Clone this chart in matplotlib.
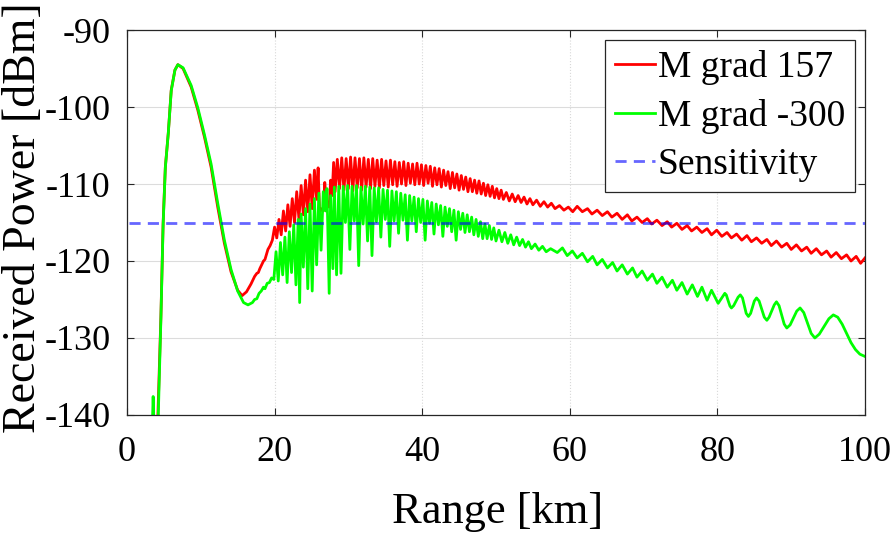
import matplotlib
matplotlib.use("Agg")
from matplotlib import pyplot as plt

# Range [km] / received power [dBm]
red_x = [4.0, 4.2, 4.6, 4.9, 5.2, 5.6, 6.0, 6.5, 6.9, 7.6, 8.7, 9.6, 10.5, 11.4, 12.3,
         13.2, 14.1, 15.0, 15.6, 16.2, 16.8, 17.3, 17.6, 17.8, 18.0, 18.2, 18.5, 18.7,
         19.1, 19.4, 19.7,
         20.0, 20.3, 20.6, 20.9, 21.2, 21.5, 21.8, 22.1, 22.4, 22.7, 23.0, 23.3, 23.6,
         23.9, 24.2, 24.5, 24.8, 25.1, 25.4, 25.7, 25.9, 26.1, 26.3, 26.6, 26.8, 27.0,
         27.2, 27.4, 27.6, 27.8, 28.0, 28.2, 28.5, 28.8, 29.1, 29.4, 29.7, 30.0, 30.3,
         30.6, 30.9, 31.2, 31.5, 31.8, 32.1, 32.4, 32.7, 33.0, 33.3, 33.6, 33.9, 34.2,
         34.5, 34.8, 35.1, 35.4, 35.7, 36.0, 36.3, 36.6, 36.9, 37.2, 37.5, 37.8, 38.1,
         38.4, 38.7, 39.0, 39.3, 39.6, 39.9, 40.2, 40.5, 40.8, 41.1, 41.4, 41.7, 42.0,
         42.3, 42.6, 42.9, 43.2, 43.5, 43.8, 44.1, 44.4, 44.7, 45.0, 45.3, 45.6, 45.9,
         46.2, 46.5, 46.8, 47.1, 47.4, 47.7, 48.0, 48.3, 48.6, 48.9, 49.2, 49.5, 49.8,
         50.1, 50.4, 50.7, 51.0, 51.4, 51.8, 52.2, 52.6, 53.0, 53.4, 53.8, 54.2, 54.6,
         55.0, 55.5, 56.0, 56.5, 57.0, 57.5, 58.0, 58.6, 59.2, 59.8, 60.4,
         61.0, 61.7, 62.4, 63.0, 63.7, 64.4, 65.1, 65.7, 66.4, 67.1, 67.8, 68.4, 69.1,
         69.8, 70.5, 71.1, 71.8, 72.5, 73.2, 73.8, 74.5, 75.2, 75.9, 76.5, 77.2, 77.9,
         78.6, 79.2, 79.9, 80.6, 81.3, 81.9, 82.6, 83.3, 84.0, 84.6, 85.3, 86.0, 86.7,
         87.3, 88.0, 88.7, 89.4, 90.0, 90.7, 91.4, 92.1, 92.7, 93.4, 94.1, 94.8, 95.4,
         96.1, 96.8, 97.5, 98.1, 98.8, 99.4, 100.0]
red_y = [-145.0, -139.8, -127.2, -115.1, -107.8, -103.4, -97.8, -95.2, -94.5, -95.0,
         -97.4, -100.4, -103.9, -107.8, -113.0, -117.7, -121.4, -123.8, -124.5, -124.0,
         -123.0, -122.0, -121.6, -121.5, -121.0, -120.6, -120.0, -119.8, -118.5, -118.0,
         -117.3,
         -115.6, -117.0, -114.6, -116.6, -113.5, -116.1, -112.7, -115.5, -111.9, -115.0,
         -111.0, -114.5, -110.2, -114.0, -109.5, -113.6, -108.8, -113.2, -108.2, -112.0,
         -107.9, -113.8, -113.2, -113.5, -109.8, -112.0, -112.6, -113.0, -109.5, -111.5,
         -107.2, -111.0, -106.8, -110.6, -106.6, -110.8, -106.7, -110.6, -106.5, -110.9,
         -106.6, -110.5, -106.7, -110.8, -106.6, -110.4, -106.8, -110.6, -106.7, -110.3,
         -106.9, -110.5, -106.8, -110.2, -107.0, -110.4, -106.9, -110.1, -107.1, -110.3,
         -107.2, -110.0, -107.1, -110.2, -107.3, -109.9, -107.4, -110.1, -107.3, -110.0,
         -107.5, -110.2, -107.6, -109.9, -107.7, -110.3, -107.9, -110.1, -108.0, -110.4,
         -108.2, -110.2, -108.4, -110.6, -108.5, -110.5, -108.7, -110.8, -108.9, -110.7,
         -109.1, -111.0, -109.3, -111.0, -109.5, -111.2, -109.6, -111.3, -109.9, -111.5,
         -110.1, -111.6, -110.3, -111.8, -110.6, -111.9, -110.8, -112.0, -111.1, -112.2,
         -111.3, -112.3, -111.5, -112.4, -111.7, -112.6, -111.9, -112.7, -112.1, -112.9,
         -112.3, -113.0, -112.5, -113.2, -112.8, -113.4, -113.0, -113.6,
         -112.9, -113.6, -113.2, -113.9, -113.4, -114.1, -113.6, -114.3, -113.8, -114.6,
         -114.0, -114.8, -114.3, -115.0, -114.5, -115.2, -114.7, -115.4, -114.9, -115.6,
         -115.1, -115.9, -115.4, -116.1, -115.6, -116.3, -115.8, -116.6, -116.0, -116.8,
         -116.3, -117.0, -116.5, -117.3, -116.7, -117.5, -117.0, -117.7, -117.2, -118.0,
         -117.4, -118.2, -117.7, -118.5, -117.9, -118.7, -118.2, -119.0, -118.4, -119.2,
         -118.7, -119.5, -118.9, -119.7, -119.2, -120.0, -119.4, -120.3, -119.6]

# green curve: first lobe, dense ripple band, slow ripples
green_rise_x = [3.3, 3.45, 3.55, 3.65, 3.8, 4.1, 4.25, 4.6, 4.9, 5.2, 5.6, 6.0, 6.5, 6.9,
                7.6, 8.7, 9.6, 10.5, 11.4, 12.3, 13.2, 14.1, 15.0, 15.8, 16.4, 17.0, 17.3,
                17.6, 17.9, 18.2, 18.5, 18.7, 19.0, 19.3, 19.6, 19.9]
green_rise_y = [-145.0, -141.0, -137.6, -141.0, -150.0, -150.0, -139.8, -127.5, -115.3,
                -107.9, -103.4, -97.9, -95.2, -94.5, -94.9, -97.2, -100.1, -103.6, -107.4,
                -112.5, -117.3, -121.1, -123.9, -125.4, -125.7, -125.4, -125.0, -124.9,
                -124.2, -123.9, -123.4, -123.6, -122.9, -122.8, -122.2, -122.4]

green_band_x = [20.2, 20.5, 20.8, 21.1, 21.4, 21.7, 22.0, 22.3, 22.6, 22.9,
                23.2, 23.4, 23.6, 23.9, 24.2, 24.5, 24.8, 25.1, 25.4, 25.7,
                26.0, 26.3, 26.6, 26.9, 27.1, 27.4, 27.6, 27.9, 28.1, 28.4,
                28.7, 29.0, 29.3, 29.6, 29.9, 30.2, 30.5, 30.8, 31.1, 31.4,
                31.7, 32.0, 32.3, 32.6, 32.9, 33.2, 33.5, 33.8, 34.1, 34.4,
                34.7, 35.0, 35.3, 35.6, 35.9, 36.2, 36.5, 36.8, 37.1, 37.4,
                37.7, 38.0, 38.3, 38.6, 38.9, 39.2, 39.5, 39.8, 40.1, 40.4,
                40.7, 41.0, 41.3, 41.6, 41.9, 42.2, 42.5, 42.8, 43.1, 43.4,
                43.7, 44.0, 44.3, 44.6, 44.9, 45.2, 45.5, 45.8, 46.1, 46.4,
                46.7, 47.0, 47.3, 47.6, 47.9, 48.2, 48.5, 48.8, 49.1, 49.4,
                49.7, 50.0, 50.4, 50.8, 51.2, 51.6, 52.0, 52.4, 52.8, 53.2,
                53.6, 54.0, 54.4, 54.8, 55.3, 55.8, 56.3, 56.8, 57.4, 58.3,
                59.0, 59.65, 60.35]
green_band_y = [-118.8, -122.6, -117.6, -121.8, -116.9, -122.8, -116.2, -121.5, -115.3, -123.1,
                -114.6, -125.4, -113.9, -120.8, -113.2, -123.6, -112.6, -123.9, -111.9, -120.5,
                -111.2, -118.6, -111.0, -113.5, -110.6, -124.2, -111.5, -121.0, -110.4, -121.8,
                -110.3, -121.6, -110.3, -115.0, -110.2, -118.5, -110.3, -114.8, -110.2, -120.6,
                -110.4, -115.2, -110.3, -117.4, -110.4, -119.3, -110.5, -114.9, -110.5, -116.9,
                -110.7, -114.6, -110.8, -118.1, -110.9, -114.8, -111.0, -116.4, -111.2, -114.7,
                -111.4, -117.3, -111.5, -114.8, -111.7, -116.2, -111.9, -115.0, -112.0, -117.3,
                -112.2, -115.1, -112.4, -116.5, -112.6, -115.3, -112.8, -116.8, -113.0, -115.5,
                -113.2, -116.2, -113.4, -117.3, -113.6, -115.9, -113.8, -116.3, -114.0, -116.2,
                -114.3, -116.6, -114.6, -116.8, -114.9, -117.1, -115.2, -117.1, -115.4, -117.2,
                -115.7, -117.4, -116.0, -117.5, -116.3, -117.7, -116.6, -117.9, -116.9, -118.0,
                -117.2, -118.2, -117.5, -118.4, -117.8, -118.6, -118.1, -118.8, -118.4, -118.9,
                -118.3, -119.3, -118.7]

green_tail_x = [61.0, 61.7, 62.4, 63.1, 63.7, 64.4, 65.1, 65.8, 66.4, 67.1,
                67.8, 68.5, 69.1, 69.8, 70.5, 71.2, 71.8, 72.5, 73.2, 73.9,
                74.5, 75.2, 75.9, 76.6, 77.3, 77.9, 78.6, 79.2, 80.1, 81.0,
                81.2, 81.45, 81.7, 81.9, 82.2, 82.5, 82.8, 83.1, 83.4, 83.65,
                83.9, 84.2, 84.5, 84.75, 85.0, 85.3, 85.65, 86.0, 86.35, 86.7,
                87.0, 87.35, 87.7, 88.0, 88.35, 88.7, 89.05, 89.4, 89.85, 90.3,
                90.75, 91.2, 91.7, 92.2, 92.7, 93.2, 93.8, 94.45, 95.1, 95.7,
                96.3, 96.9, 97.5, 98.1, 98.7, 99.3, 100.0]
green_tail_y = [-119.6, -119.0, -120.1, -119.4, -120.5, -119.8, -120.9, -120.2, -121.3, -120.5,
                -121.7, -120.9, -122.1, -121.3, -122.5, -121.7, -122.9, -122.1, -123.4, -122.5,
                -123.8, -122.8, -124.3, -123.1, -124.6, -123.4, -125.1, -123.8, -125.5, -124.2,
                -124.4, -125.15, -125.85, -126.1, -125.8, -125.25, -124.7, -124.4, -124.8, -125.8,
                -126.8, -127.2, -126.8, -126.0, -125.2, -124.8, -125.2, -126.25, -127.3, -127.7,
                -127.3, -126.5, -125.7, -125.3, -125.8, -127.0, -128.2, -128.7, -128.3, -127.4,
                -126.5, -126.1, -126.7, -128.05, -129.4, -130.0, -129.5, -128.5, -127.5, -127.0,
                -127.3, -128.2, -129.4, -130.6, -131.5, -132.1, -132.4]

green_x = green_rise_x + green_band_x + green_tail_x
green_y = green_rise_y + green_band_y + green_tail_y

sens_x = [0.3, 100.0]
sens_y = [-115.0, -115.0]

labels = ["M grad 157", "M grad -300", "Sensitivity"]
x_ticks = [0, 20, 40, 60, 80, 100]
y_ticks = [-140, -130, -120, -110, -100, -90]

plt.rcParams["font.family"] = ["Liberation Serif", "DejaVu Serif"]
plt.rcParams["axes.unicode_minus"] = False

fig = plt.figure(figsize=(8.94, 5.33), dpi=100)
ax = fig.add_axes([0.142, 0.2214, 0.8256, 0.7223])

ax.plot(red_x, red_y, color="#ff0000", lw=2.0, label=labels[0])
ax.plot(green_x, green_y, color="#00ff00", lw=2.0, label=labels[1])
ax.plot(sens_x, sens_y, color="#0000ff", alpha=0.6, lw=2.0, ls=(0, (4, 2.6)), label=labels[2])

ax.set_xlim(0, 100)
ax.set_ylim(-140, -90)
ax.set_xticks(x_ticks)
ax.set_yticks(y_ticks)
ax.tick_params(direction="in", top=True, right=True, length=5, width=0.8,
               labelsize=26, colors="#262626")
ax.tick_params(axis="y", pad=12)
ax.tick_params(axis="x", pad=15)
for tl in ax.get_xticklabels() + ax.get_yticklabels():
    tl.set_color("black")
for s in ax.spines.values():
    s.set_color("#262626")
    s.set_linewidth(0.9)
ax.yaxis.grid(True, color="#dcdcdc", lw=0.8)
ax.xaxis.grid(True, color="#d8d8d8", lw=0.8, ls=":")
ax.set_axisbelow(True)

ax.set_xlabel("Range [km]", fontsize=32, va="baseline")
ax.xaxis.set_label_coords(0.5027, -0.2805)
ax.set_ylabel("Received Power [dBm]", fontsize=33, va="baseline")
ax.yaxis.set_label_coords(-0.1247, 0.5117)

leg = ax.legend(loc="upper right", fontsize=27, handlelength=1.05, handletextpad=0.08,
                labelspacing=0.36, borderpad=0.27, borderaxespad=0.27, fancybox=False,
                framealpha=1, edgecolor="#262626")
leg.get_frame().set_linewidth(0.9)

fig.savefig("out.png", dpi=100)
